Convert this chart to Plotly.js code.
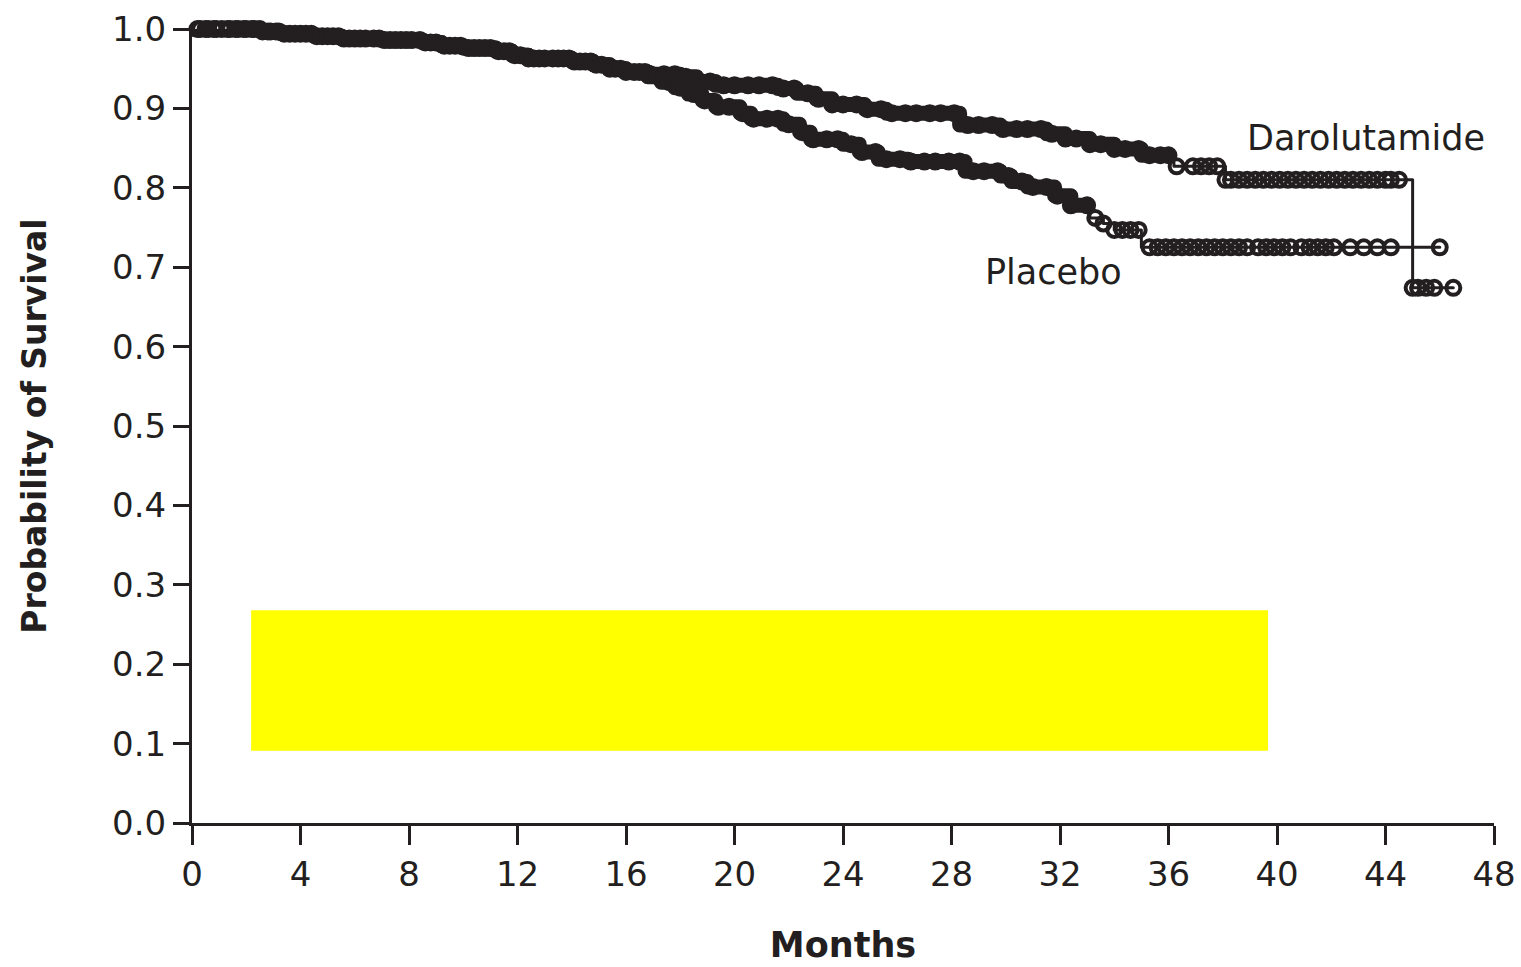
<!DOCTYPE html>
<html>
<head>
<meta charset="utf-8">
<script src="https://cdn.plot.ly/plotly-3.0.1.min.js"></script>
<style>
html,body{margin:0;padding:0;background:#fff;}
#chart{width:1521px;height:967px;}
#chart .scatterlayer .js-line{stroke-linejoin:round;stroke-linecap:round;}
</style>
</head>
<body>
<div id="chart"></div>
<script>
// ---- Data (Kaplan-Meier steps) ----
const daroTime = [0, 2.6, 3.3, 4.5, 5.5, 7.0, 8.5, 9.2, 10.0, 11.2, 11.8, 12.4, 14.0, 14.8, 15.4, 16.0, 16.8, 18.0, 18.6, 19.3, 21.6, 22.3, 23.0, 23.6, 24.8, 25.6, 28.3, 29.8, 31.5, 32.2, 33.1, 34.0, 35.0, 36.2, 38.1, 45.0, 46.5];
const daroSurv = [1.0, 0.997, 0.994, 0.991, 0.988, 0.986, 0.983, 0.979, 0.976, 0.972, 0.967, 0.963, 0.959, 0.955, 0.950, 0.946, 0.943, 0.940, 0.934, 0.929, 0.925, 0.919, 0.912, 0.905, 0.899, 0.894, 0.879, 0.874, 0.868, 0.862, 0.855, 0.849, 0.841, 0.827, 0.810, 0.674, 0.674];
const daroCensor = [0.2, 0.5, 0.8, 1.1, 1.4, 1.7, 2.0, 2.3, 2.6, 2.9, 3.2, 3.6, 4.0, 4.4, 4.8, 5.2, 5.6, 6.0, 6.4, 6.9, 7.3, 7.7, 8.1, 8.6, 9.0, 9.5, 9.9, 10.4, 10.8, 11.3, 11.7, 12.1, 12.6, 13.0, 13.5, 13.9, 14.3, 14.7, 15.1, 15.6, 16.0, 16.5, 16.9, 17.4, 17.8, 18.2, 18.7, 19.1, 19.6, 20.0, 20.5, 20.9, 21.4, 21.8, 22.2, 22.7, 23.1, 23.6, 24.0, 24.5, 24.9, 25.4, 25.8, 26.3, 26.7, 27.2, 27.6, 28.1, 28.6, 29.0, 29.5, 29.9, 30.4, 30.8, 31.3, 31.7, 32.2, 32.6, 33.1, 33.5, 34.0, 34.4, 34.9, 35.3, 35.7, 36.0, 36.3, 36.9, 37.2, 37.5, 37.8, 38.1, 38.3, 38.6, 38.9, 39.2, 39.5, 39.8, 40.1, 40.4, 40.7, 41.0, 41.3, 41.6, 41.9, 42.2, 42.5, 42.8, 43.1, 43.4, 43.7, 44.0, 44.2, 44.5, 45.0, 45.2, 45.5, 45.8, 46.5];

const placTime = [0, 2.6, 3.3, 4.5, 5.5, 7.0, 8.5, 9.2, 10.0, 11.2, 11.8, 12.4, 14.0, 14.8, 15.4, 16.0, 16.8, 17.3, 17.8, 18.3, 18.8, 19.3, 20.2, 20.6, 21.8, 22.4, 22.8, 24.0, 24.6, 25.3, 26.4, 28.5, 29.8, 30.2, 30.8, 31.8, 32.4, 33.1, 33.6, 34.0, 35.0, 46.0];
const placSurv = [1.0, 0.997, 0.994, 0.991, 0.988, 0.986, 0.983, 0.979, 0.976, 0.972, 0.967, 0.963, 0.959, 0.955, 0.950, 0.946, 0.940, 0.933, 0.926, 0.918, 0.910, 0.902, 0.894, 0.887, 0.880, 0.870, 0.861, 0.855, 0.845, 0.836, 0.833, 0.821, 0.815, 0.808, 0.801, 0.790, 0.778, 0.762, 0.755, 0.747, 0.725, 0.725];
const placCensor = [0.3, 0.6, 0.9, 1.3, 1.6, 1.9, 2.2, 2.5, 2.8, 3.1, 3.4, 3.8, 4.2, 4.6, 5.0, 5.4, 5.8, 6.2, 6.7, 7.1, 7.5, 7.9, 8.4, 8.8, 9.3, 9.7, 10.2, 10.6, 11.0, 11.5, 11.9, 12.4, 12.8, 13.3, 13.7, 14.1, 14.5, 14.9, 15.4, 15.8, 16.3, 16.7, 17.2, 17.6, 18.0, 18.5, 18.9, 19.4, 19.8, 20.3, 20.7, 21.2, 21.6, 22.0, 22.5, 22.9, 23.4, 23.8, 24.3, 24.7, 25.2, 25.6, 26.1, 26.5, 27.0, 27.4, 27.9, 28.3, 28.8, 29.2, 29.7, 30.1, 30.6, 31.0, 31.5, 31.9, 32.4, 33.0, 33.3, 33.6, 34.0, 34.3, 34.6, 34.9, 35.3, 35.6, 35.9, 36.2, 36.5, 36.8, 37.1, 37.4, 37.7, 38.0, 38.3, 38.6, 38.9, 39.3, 39.6, 39.9, 40.2, 40.5, 40.9, 41.2, 41.5, 41.8, 42.1, 42.7, 43.2, 43.7, 44.2, 46.0];

const xTicks = [0, 4, 8, 12, 16, 20, 24, 28, 32, 36, 40, 44, 48];
const yTicks = [0.0, 0.1, 0.2, 0.3, 0.4, 0.5, 0.6, 0.7, 0.8, 0.9, 1.0];
const seriesLabels = ['Darolutamide', 'Placebo'];

// ---- helpers ----
function stepAt(times, surv, t) {
  let v = surv[0];
  for (let i = 0; i < times.length; i++) { if (times[i] <= t) v = surv[i]; else break; }
  return v;
}
function upTo(times, surv, tmax) {
  const x = [], y = [];
  for (let i = 0; i < times.length; i++) { if (times[i] <= tmax) { x.push(times[i]); y.push(surv[i]); } }
  x.push(tmax); y.push(stepAt(times, surv, tmax));
  return {x, y};
}
const ink = '#231f20';
const daroBand = upTo(daroTime, daroSurv, 36.0);
const placBand = upTo(placTime, placSurv, 33.0);

const mk = {symbol: 'circle-open', size: 14, color: ink, line: {width: 4, color: ink}};
const traces = [
  {x: daroBand.x, y: daroBand.y, mode: 'lines', line: {shape: 'hv', color: ink, width: 15}, hoverinfo: 'skip', cliponaxis: false},
  {x: placBand.x, y: placBand.y, mode: 'lines', line: {shape: 'hv', color: ink, width: 15}, hoverinfo: 'skip', cliponaxis: false},
  {x: daroTime, y: daroSurv, name: seriesLabels[0], mode: 'lines', line: {shape: 'hv', color: ink, width: 3}, cliponaxis: false},
  {x: placTime, y: placSurv, name: seriesLabels[1], mode: 'lines', line: {shape: 'hv', color: ink, width: 3}, cliponaxis: false},
  {x: daroCensor, y: daroCensor.map(t => stepAt(daroTime, daroSurv, t)), mode: 'markers', marker: mk, cliponaxis: false},
  {x: placCensor, y: placCensor.map(t => stepAt(placTime, placSurv, t)), mode: 'markers', marker: mk, cliponaxis: false}
];

const fontFam = '"DejaVu Sans", "Noto Sans", sans-serif';
const layout = {
  width: 1521, height: 967,
  margin: {l: 192, r: 27, t: 29, b: 144},
  paper_bgcolor: '#ffffff', plot_bgcolor: '#ffffff',
  showlegend: false,
  font: {family: fontFam, color: ink},
  xaxis: {
    range: [0, 48], tickvals: xTicks, ticktext: xTicks.map(String),
    showline: true, linecolor: ink, linewidth: 3, mirror: false,
    ticks: 'outside', ticklen: 19, tickwidth: 3, tickcolor: ink,
    showgrid: false, zeroline: false,
    tickfont: {size: 34, color: ink, family: fontFam},
    title: {text: '<b>Months</b>', font: {size: 35, color: ink, family: fontFam}, standoff: 40},
    automargin: false
  },
  yaxis: {
    range: [0, 1.0], tickvals: yTicks, ticktext: yTicks.map(v => v.toFixed(1)),
    showline: true, linecolor: ink, linewidth: 3,
    ticks: 'outside', ticklen: 16, tickwidth: 3, tickcolor: ink,
    showgrid: false, zeroline: false,
    tickfont: {size: 34, color: ink, family: fontFam},
    title: {text: '<b>Probability of Survival</b>', font: {size: 33, color: ink, family: fontFam}, standoff: 56},
    automargin: false
  },
  shapes: [
    {type: 'rect', xref: 'x', yref: 'y', x0: 2.18, x1: 39.67, y0: 0.091, y1: 0.268,
     fillcolor: '#ffff00', line: {width: 0}, layer: 'above'}
  ],
  annotations: [
    {x: 38.82, y: 0.863, xref: 'x', yref: 'y', text: seriesLabels[0], showarrow: false, xanchor: 'left', yanchor: 'middle',
     font: {size: 35, color: ink, family: fontFam}},
    {x: 29.16, y: 0.694, xref: 'x', yref: 'y', text: seriesLabels[1], showarrow: false, xanchor: 'left', yanchor: 'middle',
     font: {size: 35, color: ink, family: fontFam}}
  ]
};
Plotly.newPlot('chart', traces, layout, {displayModeBar: false, staticPlot: true});
</script>
</body>
</html>
